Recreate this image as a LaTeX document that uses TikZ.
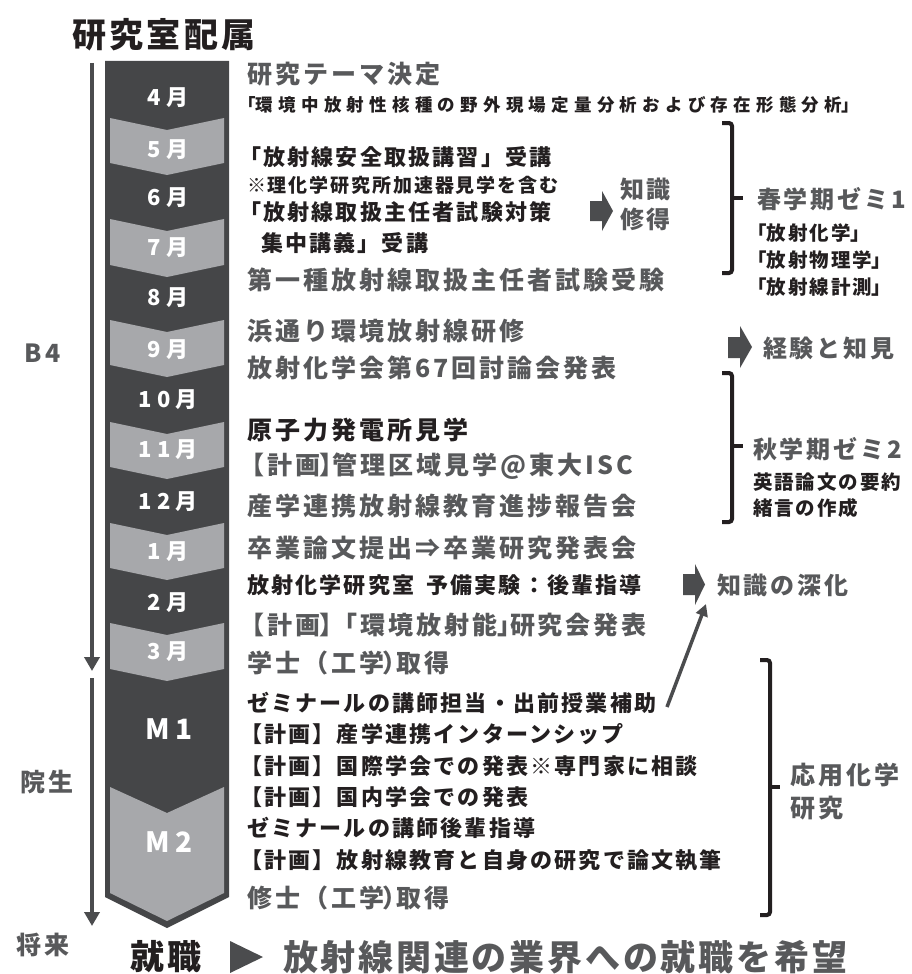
\documentclass[tikz,border=0pt]{standalone}
\usepackage{fontspec}
\newfontfamily\jp{Noto Sans CJK JP}
\usetikzlibrary{arrows.meta}
\definecolor{colDark}{HTML}{454648}
\definecolor{colLight}{HTML}{A7A8AB}
\definecolor{txtGrey}{HTML}{58595B}
\definecolor{txtBlack}{HTML}{231F20}
\definecolor{arrGrey}{HTML}{4B4C4E}
\newcommand\ftxt[2]{\fontsize{#1}{#1}\selectfont\addfontfeature{LetterSpace=#2}}
\newcommand\hb[1]{{\addfontfeature{RawFeature=+palt}#1}}
\begin{document}
\begin{tikzpicture}[x=1pt,y=-1pt,
  lbl/.style={anchor=west, inner sep=0pt, outer sep=0pt},
  gbig/.style={lbl, text=txtGrey, font=\jp\bfseries\ftxt{25}{12}},
  kbig/.style={lbl, text=txtBlack, font=\jp\bfseries\ftxt{25}{12}},
  kmid/.style={lbl, text=txtBlack, font=\jp\bfseries\ftxt{22}{10}},
  ksm/.style={lbl, text=txtBlack, font=\jp\bfseries\ftxt{19}{10}},
  kthm/.style={lbl, text=txtBlack, font=\jp\bfseries\ftxt{17.5}{30}},
  kright/.style={lbl, text=txtBlack, font=\jp\bfseries\ftxt{19.5}{10}},
  gright/.style={lbl, text=txtGrey, font=\jp\bfseries\ftxt{24}{12}},
  sidelbl/.style={inner sep=0pt, text=txtGrey, font=\jp\bfseries\ftxt{25}{14}},
  mon/.style={inner sep=0pt, text=white, font=\jp\bfseries\ftxt{22}{25}},
  mbig/.style={inner sep=0pt, text=white, font=\jp\bfseries\ftxt{28}{20}},
  larrow/.style={draw=arrGrey, line width=4pt, -{Triangle[width=15pt,length=14pt]}},
  sarrow/.style={draw=arrGrey, line width=3.5pt, -{Triangle[width=12pt,length=12pt]}},
  brk/.style={draw=txtBlack, line width=4pt, rounded corners=3pt},
  brktick/.style={draw=txtBlack, line width=4pt}
]
\useasboundingbox (0,0) rectangle (911,974);
\fill[white] (0,0) rectangle (911,974);

% title
\node[lbl, text=txtBlack, font=\jp\bfseries\ftxt{34}{10}] (title) at (72,35) {研究室配属};

% column
\fill[colDark] (105,61) -- (229,61) -- (229,897) -- (167,928) -- (105,897) -- cycle;
\foreach \t/\b in {118/163, 219/265, 320/365, 422/467, 523/568, 623/669}{
  \fill[colLight] (110,\t) -- (167,\t+12) -- (224,\t) -- (224,\b) -- (167,\b+12) -- (110,\b) -- cycle;
}
\fill[colLight] (110,787) -- (167,813) -- (224,787) -- (224,893) -- (167,921) -- (110,893) -- cycle;

% months
\node[mon] (m4) at (168,97.5) {4月};
\node[mon] (m5) at (168,150) {5月};
\node[mon] (m6) at (168,198) {6月};
\node[mon] (m7) at (168,248) {7月};
\node[mon] (m8) at (168,298) {8月};
\node[mon] (m9) at (168,350) {9月};
\node[mon] (m10) at (168,400) {10月};
\node[mon] (m11) at (168,450) {11月};
\node[mon] (m12) at (168,502) {12月};
\node[mon] (m1) at (168,552) {1月};
\node[mon] (m2) at (168,603) {2月};
\node[mon] (m3) at (168,652) {3月};
\node[mbig] (mM1) at (169,729) {M1};
\node[mbig] (mM2) at (169,842) {M2};

% left arrows and labels
\coordinate (bAtop) at (92,63);
\coordinate (bAend) at (92,671);
\coordinate (bBtop) at (92,678);
\coordinate (bBend) at (92,926);
\draw[larrow] (bAtop) -- (bAend);
\draw[larrow] (bBtop) -- (bBend);
\node[sidelbl] (lb4) at (43,353) {B4};
\node[sidelbl] (lgrad) at (47,782) {院生};
\node[sidelbl] (lfut) at (43,945) {将来};

% B4 texts
\node[gbig] (t1) at (247,74) {研究テーマ決定};
\node[kthm] (t2) at (247,105) {\hb{「}環境中放射性核種の野外現場定量分析および存在形態分析\hb{」}};
\node[kmid] (t3) at (239,157) {「放射線安全取扱講習」受講};
\node[ksm] (t4) at (247,185) {※理化学研究所加速器見学を含む};
\node[kmid] (t5) at (239,212) {「放射線取扱主任者試験対策};
\node[kmid] (t6) at (239,243) {\phantom{「}集中講義」受講};
\node[gbig] (t7) at (247,280) {第一種放射線取扱主任者試験受験};
\node[gbig] (t8) at (247,331) {浜通り環境放射線研修};
\node[gbig] (t9) at (247,368) {放射化学会第67回討論会発表};
\node[kbig] (t10) at (247,430) {原子力発電所見学};
\node[gbig] (t11) at (239,466) {【計画\hb{】}管理区域見学@東大ISC};
\node[gbig] (t12) at (247,506) {産学連携放射線教育進捗報告会};
\node[gbig] (t13) at (247,548) {卒業論文提出⇒卒業研究発表会};
\node[kmid] (t14) at (247,585) {放射化学研究室\hspace{0.55em}予備実験：後輩指導};
\node[gbig] (t15) at (239,625) {【計画\hb{】}「環境放射能\hb{」}研究会発表};
\node[gbig] (t16) at (247,663) {学士（工学\hb{）}取得};

% graduate texts
\node[kmid] (g1) at (247,703) {ゼミナールの講師担当・出前授業補助};
\node[kmid] (g2) at (240,734) {【計画】産学連携インターンシップ};
\node[kmid] (g3) at (240,766) {【計画】国際学会での発表※専門家に相談};
\node[kmid] (g4) at (240,797) {【計画】国内学会での発表};
\node[kmid] (g5) at (247,828) {ゼミナールの講師後輩指導};
\node[kmid] (g6) at (240,860) {【計画】放射線教育と自身の研究で論文執筆};
\node[gbig] (g7) at (247,898) {修士（工学\hb{）}取得};

% block arrows and results
\fill[arrGrey] (590,201) -- (602,201) -- (602,191) -- (613,211) -- (602,231) -- (602,221) -- (590,221) -- cycle;
\node[gright] (r1a) at (620,189) {知識};
\node[gright] (r1b) at (620,219) {修得};
\fill[arrGrey] (728,337) -- (740,337) -- (740,326) -- (752,347) -- (740,368) -- (740,358) -- (728,358) -- cycle;
\node[gright] (r2) at (763,348) {経験と知見};
\fill[arrGrey] (683,574) -- (695,574) -- (695,564) -- (705,584.5) -- (695,605) -- (695,595) -- (683,595) -- cycle;
\node[gright] (r3) at (717,585) {知識の深化};
\coordinate (lnS) at (667,707);
\coordinate (lnE) at (706,604);
\draw[sarrow] (lnS) -- (lnE);

% brackets
\draw[brk] (722,123) -- (732,123) -- (732,273) -- (722,273);
\draw[brktick] (732,198) -- (743,198);
\node[gright] (s1) at (757,199) {春学期ゼミ1};
\node[kright] (s1a) at (757,233) {\hb{「}放射化学\hb{」}};
\node[kright] (s1b) at (757,260) {\hb{「}放射物理学\hb{」}};
\node[kright] (s1c) at (757,287) {\hb{「}放射線計測\hb{」}};

\draw[brk] (722,373) -- (732,373) -- (732,522) -- (722,522);
\draw[brktick] (732,446) -- (743,446);
\node[gright] (s2) at (753,449) {秋学期ゼミ2};
\node[kright] (s2a) at (753,482) {英語論文の要約};
\node[kright] (s2b) at (753,508) {緒言の作成};

\draw[brk] (760,660) -- (770,660) -- (770,915) -- (760,915);
\draw[brktick] (770,787) -- (780,787);
\node[gbig] (s3a) at (790,775) {応用化学};
\node[gbig] (s3b) at (790,808) {研究};

% bottom
\node[lbl, text=txtBlack, font=\jp\bfseries\ftxt{34}{10}] (job) at (130,957) {就職};
\fill[arrGrey] (230,941) -- (263,957) -- (230,973) -- cycle;
\node[lbl, text=txtGrey, font=\jp\bfseries\ftxt{35}{8}] (hope) at (283,957) {放射線関連の業界への就職を希望};
\end{tikzpicture}
\end{document}
